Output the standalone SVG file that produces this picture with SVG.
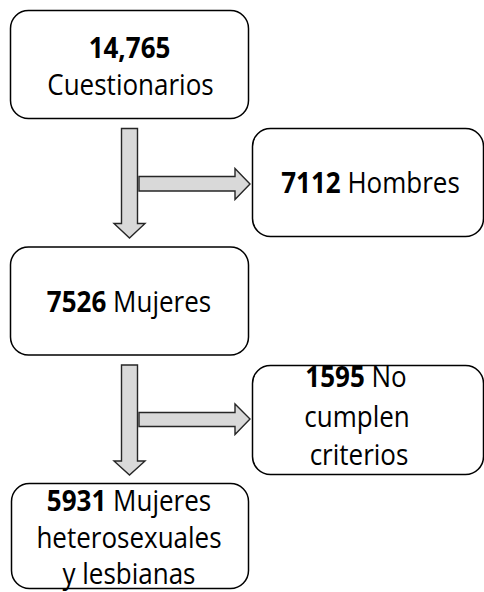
<svg xmlns="http://www.w3.org/2000/svg" width="484" height="592" viewBox="0 0 484 592">
<style>
.box{fill:#ffffff;stroke:#000000;stroke-width:1.5}
.arr{fill:#d9d9d9;stroke:#262626;stroke-width:1.4;stroke-linejoin:miter}
.t{font-family:"Open Sans","Noto Sans","Liberation Sans",sans-serif;font-size:26px;fill:#000000;text-anchor:middle}
.b{font-weight:bold}
</style>
<rect width="484" height="592" fill="#ffffff"/>
<g id="connectors">
<polygon class="arr" points="121.5,128.5 137.5,128.5 137.5,223.5 145,223.5 129.5,238 114,223.5 121.5,223.5"/>
<polygon class="arr" points="139,176.5 235,176.5 235,168.5 250,184 235,199.5 235,191 139,191"/>
<polygon class="arr" points="121.5,365 137.5,365 137.5,461 145,461 129.5,475 114,461 121.5,461"/>
<polygon class="arr" points="139,412.5 235,412.5 235,404 250,419 235,434.5 235,426.5 139,426.5"/>
</g>
<g id="n1">
<rect class="box" x="10.5" y="10.5" width="238" height="108" rx="18"/>
<text class="t" transform="translate(129.5,57.7) scale(1,1.1)"><tspan class="b">14,765</tspan></text>
<text class="t" transform="translate(130.5,95) scale(1,1.1)">Cuestionarios</text>
</g>
<g id="n2">
<rect class="box" x="252.5" y="128.5" width="231" height="108" rx="18"/>
<text class="t" transform="translate(370.5,193.3) scale(1,1.1)"><tspan class="b">7112</tspan> Hombres</text>
</g>
<g id="n3">
<rect class="box" x="10.5" y="247" width="238" height="108" rx="18"/>
<text class="t" transform="translate(129,311.7) scale(1,1.1)"><tspan class="b">7526</tspan> Mujeres</text>
</g>
<g id="n4">
<rect class="box" x="252.5" y="365.5" width="231" height="109" rx="18"/>
<text class="t" transform="translate(356,387) scale(1,1.1)"><tspan class="b">1595</tspan> No</text>
<text class="t" transform="translate(357,426.5) scale(1,1.1)">cumplen</text>
<text class="t" transform="translate(359,465) scale(1,1.1)">criterios</text>
</g>
<g id="n5">
<rect class="box" x="11.5" y="483.5" width="237" height="105" rx="18"/>
<text class="t" transform="translate(129,511) scale(1,1.1)"><tspan class="b">5931</tspan> Mujeres</text>
<text class="t" transform="translate(129,547.8) scale(1,1.1)">heterosexuales</text>
<text class="t" transform="translate(129,583.5) scale(1,1.1)">y lesbianas</text>
</g>
</svg>
